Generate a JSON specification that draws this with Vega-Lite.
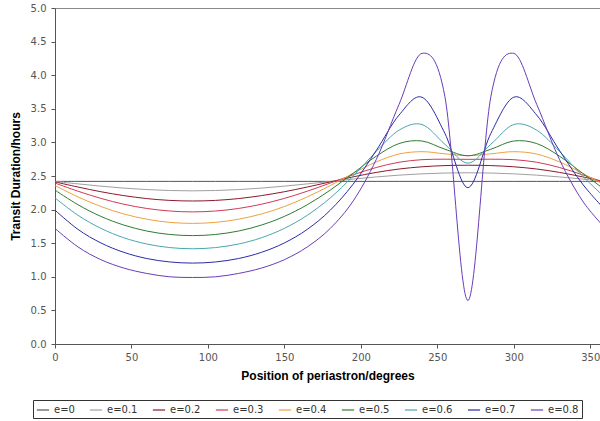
{
  "$schema": "https://vega.github.io/schema/vega-lite/v6.json",
  "width": 545,
  "height": 336,
  "autosize": {"type": "none"},
  "padding": {"left": 55, "top": 8, "right": 0, "bottom": 77},
  "background": "white",
  "config": {"view": {"stroke": null}, "font": "DejaVu Sans"},
  "data": {"values": [
{"s":"e=0","w":0,"t":2.42},{"s":"e=0","w":15,"t":2.42},{"s":"e=0","w":30,"t":2.42},{"s":"e=0","w":45,"t":2.42},{"s":"e=0","w":60,"t":2.42},{"s":"e=0","w":75,"t":2.42},{"s":"e=0","w":90,"t":2.42},{"s":"e=0","w":105,"t":2.42},{"s":"e=0","w":120,"t":2.42},{"s":"e=0","w":135,"t":2.42},{"s":"e=0","w":150,"t":2.42},{"s":"e=0","w":165,"t":2.42},{"s":"e=0","w":180,"t":2.42},{"s":"e=0","w":195,"t":2.42},{"s":"e=0","w":210,"t":2.42},{"s":"e=0","w":225,"t":2.42},{"s":"e=0","w":240,"t":2.42},{"s":"e=0","w":255,"t":2.42},{"s":"e=0","w":270,"t":2.42},{"s":"e=0","w":285,"t":2.42},{"s":"e=0","w":300,"t":2.42},{"s":"e=0","w":315,"t":2.42},{"s":"e=0","w":330,"t":2.42},{"s":"e=0","w":345,"t":2.42},{"s":"e=0","w":360,"t":2.42},
{"s":"e=0.1","w":0,"t":2.418},{"s":"e=0.1","w":15,"t":2.383},{"s":"e=0.1","w":30,"t":2.349},{"s":"e=0.1","w":45,"t":2.32},{"s":"e=0.1","w":60,"t":2.298},{"s":"e=0.1","w":75,"t":2.284},{"s":"e=0.1","w":90,"t":2.279},{"s":"e=0.1","w":105,"t":2.284},{"s":"e=0.1","w":120,"t":2.298},{"s":"e=0.1","w":135,"t":2.32},{"s":"e=0.1","w":150,"t":2.349},{"s":"e=0.1","w":165,"t":2.383},{"s":"e=0.1","w":180,"t":2.418},{"s":"e=0.1","w":195,"t":2.454},{"s":"e=0.1","w":210,"t":2.486},{"s":"e=0.1","w":225,"t":2.513},{"s":"e=0.1","w":240,"t":2.532},{"s":"e=0.1","w":255,"t":2.544},{"s":"e=0.1","w":270,"t":2.548},{"s":"e=0.1","w":285,"t":2.544},{"s":"e=0.1","w":300,"t":2.532},{"s":"e=0.1","w":315,"t":2.513},{"s":"e=0.1","w":330,"t":2.486},{"s":"e=0.1","w":345,"t":2.454},{"s":"e=0.1","w":360,"t":2.418},
{"s":"e=0.2","w":0,"t":2.412},{"s":"e=0.2","w":15,"t":2.336},{"s":"e=0.2","w":30,"t":2.266},{"s":"e=0.2","w":45,"t":2.208},{"s":"e=0.2","w":60,"t":2.164},{"s":"e=0.2","w":75,"t":2.137},{"s":"e=0.2","w":90,"t":2.128},{"s":"e=0.2","w":105,"t":2.137},{"s":"e=0.2","w":120,"t":2.164},{"s":"e=0.2","w":135,"t":2.208},{"s":"e=0.2","w":150,"t":2.266},{"s":"e=0.2","w":165,"t":2.336},{"s":"e=0.2","w":180,"t":2.412},{"s":"e=0.2","w":195,"t":2.487},{"s":"e=0.2","w":210,"t":2.553},{"s":"e=0.2","w":225,"t":2.604},{"s":"e=0.2","w":240,"t":2.637},{"s":"e=0.2","w":255,"t":2.655},{"s":"e=0.2","w":270,"t":2.66},{"s":"e=0.2","w":285,"t":2.655},{"s":"e=0.2","w":300,"t":2.637},{"s":"e=0.2","w":315,"t":2.604},{"s":"e=0.2","w":330,"t":2.553},{"s":"e=0.2","w":345,"t":2.487},{"s":"e=0.2","w":360,"t":2.412},
{"s":"e=0.3","w":0,"t":2.395},{"s":"e=0.3","w":15,"t":2.274},{"s":"e=0.3","w":30,"t":2.167},{"s":"e=0.3","w":45,"t":2.08},{"s":"e=0.3","w":60,"t":2.017},{"s":"e=0.3","w":75,"t":1.979},{"s":"e=0.3","w":90,"t":1.966},{"s":"e=0.3","w":105,"t":1.979},{"s":"e=0.3","w":120,"t":2.017},{"s":"e=0.3","w":135,"t":2.08},{"s":"e=0.3","w":150,"t":2.167},{"s":"e=0.3","w":165,"t":2.274},{"s":"e=0.3","w":180,"t":2.395},{"s":"e=0.3","w":195,"t":2.518},{"s":"e=0.3","w":210,"t":2.626},{"s":"e=0.3","w":225,"t":2.705},{"s":"e=0.3","w":240,"t":2.743},{"s":"e=0.3","w":255,"t":2.75},{"s":"e=0.3","w":270,"t":2.748},{"s":"e=0.3","w":285,"t":2.75},{"s":"e=0.3","w":300,"t":2.743},{"s":"e=0.3","w":315,"t":2.705},{"s":"e=0.3","w":330,"t":2.626},{"s":"e=0.3","w":345,"t":2.518},{"s":"e=0.3","w":360,"t":2.395},
{"s":"e=0.4","w":0,"t":2.358},{"s":"e=0.4","w":15,"t":2.189},{"s":"e=0.4","w":30,"t":2.046},{"s":"e=0.4","w":45,"t":1.935},{"s":"e=0.4","w":60,"t":1.857},{"s":"e=0.4","w":75,"t":1.81},{"s":"e=0.4","w":90,"t":1.795},{"s":"e=0.4","w":105,"t":1.81},{"s":"e=0.4","w":120,"t":1.857},{"s":"e=0.4","w":135,"t":1.935},{"s":"e=0.4","w":150,"t":2.046},{"s":"e=0.4","w":165,"t":2.189},{"s":"e=0.4","w":180,"t":2.358},{"s":"e=0.4","w":195,"t":2.54},{"s":"e=0.4","w":210,"t":2.709},{"s":"e=0.4","w":225,"t":2.827},{"s":"e=0.4","w":240,"t":2.862},{"s":"e=0.4","w":255,"t":2.83},{"s":"e=0.4","w":270,"t":2.803},{"s":"e=0.4","w":285,"t":2.83},{"s":"e=0.4","w":300,"t":2.862},{"s":"e=0.4","w":315,"t":2.827},{"s":"e=0.4","w":330,"t":2.709},{"s":"e=0.4","w":345,"t":2.54},{"s":"e=0.4","w":360,"t":2.358},
{"s":"e=0.5","w":0,"t":2.29},{"s":"e=0.5","w":15,"t":2.073},{"s":"e=0.5","w":30,"t":1.899},{"s":"e=0.5","w":45,"t":1.77},{"s":"e=0.5","w":60,"t":1.681},{"s":"e=0.5","w":75,"t":1.63},{"s":"e=0.5","w":90,"t":1.613},{"s":"e=0.5","w":105,"t":1.63},{"s":"e=0.5","w":120,"t":1.681},{"s":"e=0.5","w":135,"t":1.77},{"s":"e=0.5","w":150,"t":1.899},{"s":"e=0.5","w":165,"t":2.073},{"s":"e=0.5","w":180,"t":2.29},{"s":"e=0.5","w":195,"t":2.541},{"s":"e=0.5","w":210,"t":2.794},{"s":"e=0.5","w":225,"t":2.983},{"s":"e=0.5","w":240,"t":3.021},{"s":"e=0.5","w":255,"t":2.898},{"s":"e=0.5","w":270,"t":2.801},{"s":"e=0.5","w":285,"t":2.898},{"s":"e=0.5","w":300,"t":3.021},{"s":"e=0.5","w":315,"t":2.983},{"s":"e=0.5","w":330,"t":2.794},{"s":"e=0.5","w":345,"t":2.541},{"s":"e=0.5","w":360,"t":2.29},
{"s":"e=0.6","w":0,"t":2.174},{"s":"e=0.6","w":15,"t":1.916},{"s":"e=0.6","w":30,"t":1.721},{"s":"e=0.6","w":45,"t":1.581},{"s":"e=0.6","w":60,"t":1.488},{"s":"e=0.6","w":75,"t":1.435},{"s":"e=0.6","w":90,"t":1.417},{"s":"e=0.6","w":105,"t":1.435},{"s":"e=0.6","w":120,"t":1.488},{"s":"e=0.6","w":135,"t":1.581},{"s":"e=0.6","w":150,"t":1.721},{"s":"e=0.6","w":165,"t":1.916},{"s":"e=0.6","w":180,"t":2.174},{"s":"e=0.6","w":195,"t":2.499},{"s":"e=0.6","w":210,"t":2.864},{"s":"e=0.6","w":225,"t":3.182},{"s":"e=0.6","w":240,"t":3.266},{"s":"e=0.6","w":255,"t":2.972},{"s":"e=0.6","w":270,"t":2.691},{"s":"e=0.6","w":285,"t":2.972},{"s":"e=0.6","w":300,"t":3.266},{"s":"e=0.6","w":315,"t":3.182},{"s":"e=0.6","w":330,"t":2.864},{"s":"e=0.6","w":345,"t":2.499},{"s":"e=0.6","w":360,"t":2.174},
{"s":"e=0.7","w":0,"t":1.991},{"s":"e=0.7","w":15,"t":1.706},{"s":"e=0.7","w":30,"t":1.504},{"s":"e=0.7","w":45,"t":1.364},{"s":"e=0.7","w":60,"t":1.272},{"s":"e=0.7","w":75,"t":1.221},{"s":"e=0.7","w":90,"t":1.204},{"s":"e=0.7","w":105,"t":1.221},{"s":"e=0.7","w":120,"t":1.272},{"s":"e=0.7","w":135,"t":1.364},{"s":"e=0.7","w":150,"t":1.504},{"s":"e=0.7","w":165,"t":1.706},{"s":"e=0.7","w":180,"t":1.991},{"s":"e=0.7","w":195,"t":2.38},{"s":"e=0.7","w":210,"t":2.876},{"s":"e=0.7","w":225,"t":3.407},{"s":"e=0.7","w":240,"t":3.672},{"s":"e=0.7","w":255,"t":3.133},{"s":"e=0.7","w":270,"t":2.327},{"s":"e=0.7","w":285,"t":3.133},{"s":"e=0.7","w":300,"t":3.672},{"s":"e=0.7","w":315,"t":3.407},{"s":"e=0.7","w":330,"t":2.876},{"s":"e=0.7","w":345,"t":2.38},{"s":"e=0.7","w":360,"t":1.991},
{"s":"e=0.8","w":0,"t":1.72},{"s":"e=0.8","w":15,"t":1.445},{"s":"e=0.8","w":30,"t":1.255},{"s":"e=0.8","w":45,"t":1.13},{"s":"e=0.8","w":60,"t":1.05},{"s":"e=0.8","w":75,"t":1.0},{"s":"e=0.8","w":90,"t":0.99},{"s":"e=0.8","w":105,"t":1.0},{"s":"e=0.8","w":120,"t":1.05},{"s":"e=0.8","w":135,"t":1.13},{"s":"e=0.8","w":150,"t":1.255},{"s":"e=0.8","w":165,"t":1.445},{"s":"e=0.8","w":180,"t":1.72},{"s":"e=0.8","w":195,"t":2.129},{"s":"e=0.8","w":210,"t":2.741},{"s":"e=0.8","w":225,"t":3.567},{"s":"e=0.8","w":240,"t":4.325},{"s":"e=0.8","w":255,"t":3.678},{"s":"e=0.8","w":270,"t":0.647},{"s":"e=0.8","w":285,"t":3.678},{"s":"e=0.8","w":300,"t":4.325},{"s":"e=0.8","w":315,"t":3.567},{"s":"e=0.8","w":330,"t":2.741},{"s":"e=0.8","w":345,"t":2.129},{"s":"e=0.8","w":360,"t":1.72}
  ]},
  "mark": {"type": "line", "interpolate": "cardinal", "strokeWidth": 1, "clip": true},
  "encoding": {
    "x": {
      "field": "w", "type": "quantitative",
      "scale": {"domain": [0, 356.4], "nice": false, "zero": false},
      "axis": {
        "values": [0, 50, 100, 150, 200, 250, 300, 350],
        "title": "Position of periastron/degrees",
        "grid": false,
        "domainColor": "#555555", "tickColor": "#555555", "tickSize": 4,
        "labelColor": "#555555", "labelFont": "DejaVu Sans", "labelFontSize": 10,
        "labelPadding": 4, "labelFlush": false,
        "titleFont": "Liberation Sans", "titleFontSize": 12, "titleFontWeight": "bold",
        "titleColor": "#000000", "titlePadding": 8
      }
    },
    "y": {
      "field": "t", "type": "quantitative",
      "scale": {"domain": [0, 5], "nice": false},
      "axis": {
        "values": [0, 0.5, 1, 1.5, 2, 2.5, 3, 3.5, 4, 4.5, 5],
        "format": ".1f",
        "title": "Transit Duration/hours",
        "grid": true,
        "gridColor": {"condition": {"test": "datum.value === 5", "value": "#888888"}, "value": "transparent"},
        "domainColor": "#555555", "tickColor": "#555555", "tickSize": 4,
        "labelColor": "#555555", "labelFont": "DejaVu Sans", "labelFontSize": 10,
        "labelPadding": 5,
        "titleFont": "Liberation Sans", "titleFontSize": 12, "titleFontWeight": "bold",
        "titleColor": "#000000", "titleX": -40, "titleY": 168, "titleBaseline": "middle", "titleAngle": -90
      }
    },
    "color": {
      "field": "s", "type": "nominal",
      "scale": {
        "domain": ["e=0", "e=0.1", "e=0.2", "e=0.3", "e=0.4", "e=0.5", "e=0.6", "e=0.7", "e=0.8"],
        "range": ["#555555", "#a0a0a0", "#8b1a2a", "#d03a55", "#f0a040", "#2e7d32", "#4aa6ae", "#2b2ba6", "#6a3cb8"]
      },
      "legend": {
        "orient": "none", "legendX": -22, "legendY": 392,
        "direction": "horizontal", "columns": 9, "title": null,
        "symbolType": "stroke", "symbolSize": 150, "symbolStrokeWidth": 1.2,
        "labelFont": "DejaVu Sans", "labelFontSize": 10, "labelColor": "#333333",
        "labelOffset": 4, "columnPadding": 12,
        "strokeColor": "#333333", "padding": 3
      }
    }
  }
}
